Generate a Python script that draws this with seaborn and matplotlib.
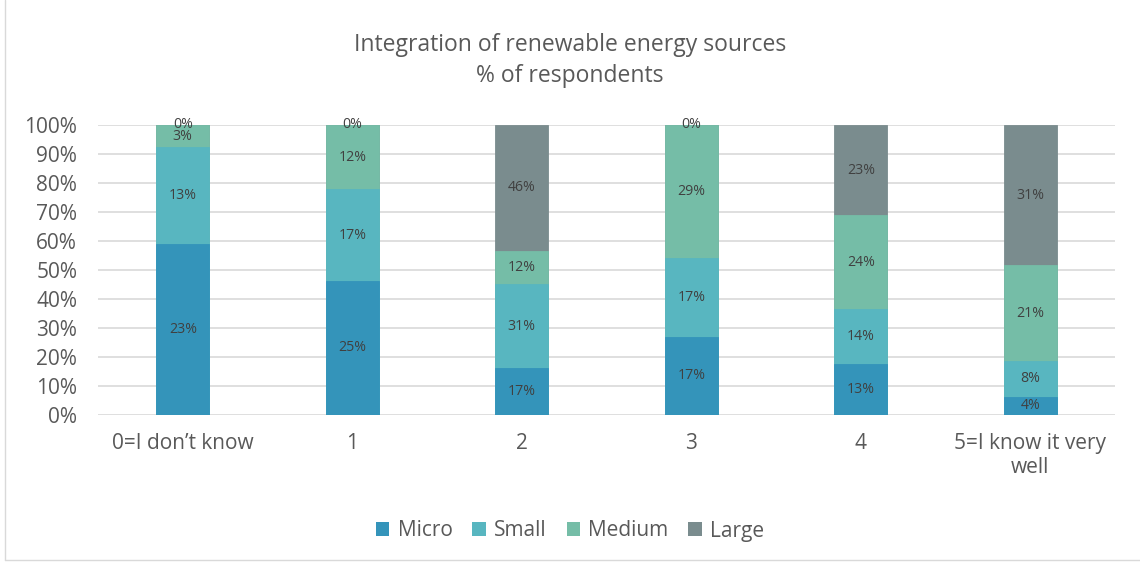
import numpy as np
import pandas as pd
import matplotlib
matplotlib.use("Agg")
import matplotlib.pyplot as plt
import seaborn as sns
from matplotlib.patches import Patch

categories = ["0=I don\u2019t know", "1", "2", "3", "4", "5=I know it very\nwell"]
series_names = ["Micro", "Small", "Medium", "Large"]
micro = [23, 25, 17, 17, 13, 4]
small = [13, 17, 31, 17, 14, 8]
medium = [3, 12, 12, 29, 24, 21]
large = [0, 0, 46, 0, 23, 31]
colors = ["#3494BA", "#58B6C0", "#75BDA7", "#7A8C8E"]
yticks = [0, 0.1, 0.2, 0.3, 0.4, 0.5, 0.6, 0.7, 0.8, 0.9, 1.0]

sns.set_theme(style="white")
plt.rcParams["font.family"] = ["Open Sans", "DejaVu Sans"]

vals = np.array([micro, small, medium, large], dtype=float)
shares = vals / vals.sum(axis=0)
cum = np.cumsum(shares, axis=0)

fig = plt.figure(figsize=(11.4, 5.64), dpi=100)
ax = fig.add_axes([98 / 1140, 1 - 415 / 564, (1115 - 98) / 1140, 290 / 564])

for i in reversed(range(4)):
    df = pd.DataFrame({"cat": categories, "v": cum[i]})
    sns.barplot(data=df, x="cat", y="v", order=categories, color=colors[i],
                saturation=1, width=0.31, ax=ax, zorder=2, linewidth=0.6,
                edgecolor=colors[i])

for i in range(4):
    for j in range(len(categories)):
        bottom = cum[i - 1][j] if i > 0 else 0.0
        center = bottom + shares[i][j] / 2
        ax.text(j, center, f"{int(vals[i][j])}%", ha="center", va="center",
                fontsize=10.2, color="#404040", zorder=3)

ax.set_ylim(0, 1)
ax.set_xlim(-0.5, len(categories) - 0.5)
ax.set_yticks(yticks)
ax.set_yticklabels([f"{int(round(t * 100))}%" for t in yticks])
ax.yaxis.grid(True, color="#d9d9d9", linewidth=1.2, zorder=0)
ax.set_axisbelow(True)
for s in ax.spines.values():
    s.set_visible(False)
ax.tick_params(axis="y", length=0, pad=15, labelsize=15, labelcolor="#595959")
ax.tick_params(axis="x", length=0, pad=13, labelsize=15, labelcolor="#595959")
ax.set_xlabel("")
ax.set_ylabel("")

fig.text(0.5, 1 - 45 / 564, "Integration of renewable energy sources", ha="center",
         va="center", fontsize=16.5, color="#595959")
fig.text(0.5, 1 - 76 / 564, "% of respondents", ha="center", va="center",
         fontsize=16.5, color="#595959")

handles = [Patch(facecolor=c, edgecolor="none") for c in colors]
fig.legend(handles, series_names, loc="center", bbox_to_anchor=(0.5, 1 - 531 / 564),
           ncol=4, frameon=False, fontsize=15, handlelength=0.65, handleheight=0.65,
           handletextpad=0.4, columnspacing=0.95, labelcolor="#595959")

fig.add_artist(plt.Line2D([5 / 1140, 5 / 1140], [4 / 564, 1], transform=fig.transFigure,
                          color="#d9d9d9", linewidth=1))
fig.add_artist(plt.Line2D([5 / 1140, 1], [4 / 564, 4 / 564], transform=fig.transFigure,
                          color="#d9d9d9", linewidth=1))

fig.savefig("out.png", dpi=100)
